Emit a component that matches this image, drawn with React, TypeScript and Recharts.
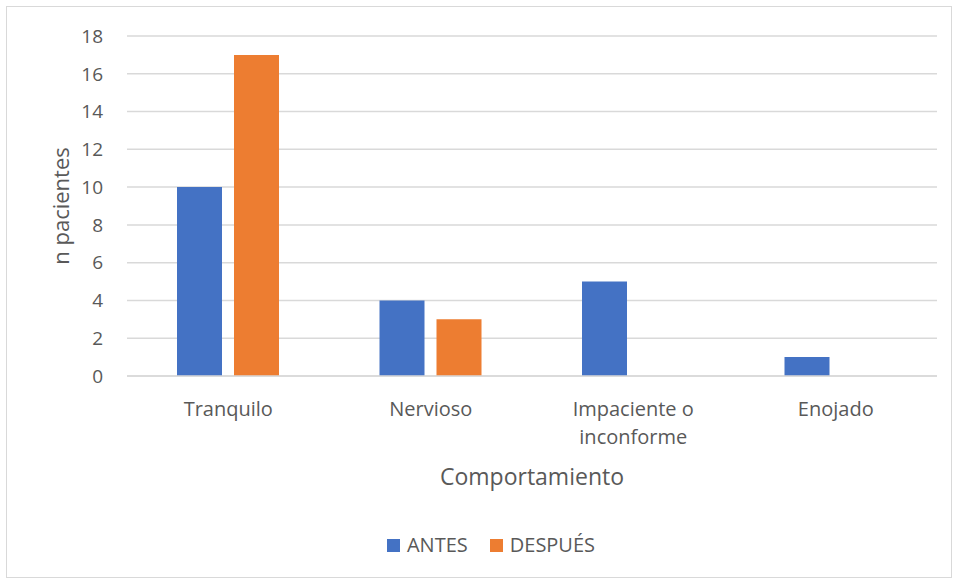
import React from 'react';
import { BarChart, Bar, XAxis, YAxis, CartesianGrid, Legend } from 'recharts';

const categories = ['Tranquilo', 'Nervioso', 'Impaciente o inconforme', 'Enojado'];
const antes = [10, 4, 5, 1];
const despues = [17, 3, 0, 0];
const yTicks = [0, 2, 4, 6, 8, 10, 12, 14, 16, 18];

const data = categories.map((c, i) => ({ name: c, ANTES: antes[i], 'DESPUÉS': despues[i] }));

const FONT = '"Open Sans", sans-serif';
const TEXT = '#595959';
const COLORS: Record<string, string> = { ANTES: '#4472C4', 'DESPUÉS': '#ED7D31' };

// wraps long category names onto two lines, like Excel does
const CategoryTick = (props: any) => {
  const { x, y, payload } = props;
  const words: string[] = String(payload.value).split(' ');
  const lines: string[] = [];
  let cur = '';
  words.forEach((w) => {
    const next = cur ? cur + ' ' + w : w;
    if (next.length > 13 && cur) {
      lines.push(cur);
      cur = w;
    } else {
      cur = next;
    }
  });
  if (cur) lines.push(cur);
  return (
    <text x={x} y={y} textAnchor="middle" fill={TEXT} fontSize={20} fontFamily={FONT}>
      {lines.map((l, i) => (
        <tspan key={i} x={x} dy={i === 0 ? 32 : 28}>{l}</tspan>
      ))}
    </text>
  );
};

const YTitle = (props: any) => {
  const { viewBox } = props;
  const cx = 60;
  const cy = viewBox.y + viewBox.height / 2;
  return (
    <text x={cx} y={cy} transform={`rotate(-90, ${cx}, ${cy})`} textAnchor="middle" dominantBaseline="central"
      fill={TEXT} fontSize={22} fontFamily={FONT}>
      n pacientes
    </text>
  );
};

const XTitle = (props: any) => {
  const { viewBox } = props;
  const cx = viewBox.x + viewBox.width / 2;
  return (
    <text x={cx} y={476} textAnchor="middle" dominantBaseline="central" fill={TEXT} fontSize={23} fontFamily={FONT}>
      Comportamiento
    </text>
  );
};

const LegendContent = (props: any) => {
  const { payload } = props;
  return (
    <div style={{ height: 24, paddingRight: 22, display: 'flex', justifyContent: 'center', alignItems: 'center', fontFamily: FONT, fontSize: 20, color: TEXT }}>
      {(payload || []).map((p: any, i: number) => (
        <div key={i} style={{ display: 'flex', alignItems: 'center', marginLeft: i === 0 ? 0 : 22 }}>
          <span style={{ width: 13, height: 13, background: COLORS[p.value], display: 'inline-block', marginRight: 7 }} />
          <span style={{ lineHeight: '24px' }}>{p.value}</span>
        </div>
      ))}
    </div>
  );
};

const App: React.FC = () => {
  return (
    <div style={{ position: 'absolute', left: 0, top: 0, width: 953, height: 580, background: '#fff' }}>
      <div style={{ position: 'absolute', left: 6, top: 6, width: 946, height: 572, border: '1px solid #d9d9d9', boxSizing: 'border-box' }} />
      <BarChart
        width={953}
        height={580}
        data={data}
        margin={{ top: 36, right: 16, left: 67, bottom: 23 }}
        barCategoryGap={50}
        barGap={12}
        style={{ position: 'absolute', left: 0, top: 0 }}
      >
        <CartesianGrid vertical={false} stroke="#d9d9d9" strokeWidth={1.5} />
        <XAxis
          dataKey="name"
          axisLine={{ stroke: '#d9d9d9', strokeWidth: 1.5 }}
          tickLine={false}
          height={157}
          tick={<CategoryTick />}
          interval={0}
          label={<XTitle />}
        />
        <YAxis
          width={60}
          domain={[0, 18]}
          ticks={yTicks}
          axisLine={false}
          tickLine={false}
          tickMargin={18}
          tick={{ fill: TEXT, fontSize: 19, fontFamily: FONT }}
          label={<YTitle />}
        />
        <Legend verticalAlign="bottom" content={<LegendContent />} />
        <Bar dataKey="ANTES" fill={COLORS.ANTES} isAnimationActive={false} />
        <Bar dataKey="DESPUÉS" fill={COLORS['DESPUÉS']} isAnimationActive={false} />
      </BarChart>
    </div>
  );
};

export default App;
